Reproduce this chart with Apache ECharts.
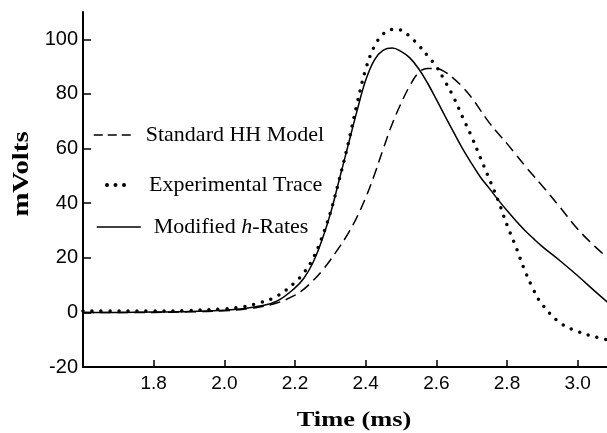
<!DOCTYPE html>
<html>
<head>
<meta charset="utf-8">
<script src="https://cdn.jsdelivr.net/npm/echarts@6/dist/echarts.min.js"></script>
<style>
  html, body { margin: 0; padding: 0; background: #fff; }
  #main { width: 607px; height: 433px; }
</style>
</head>
<body>
<div id="main"></div>
<script>
// time samples (ms)
var times = [1.60, 1.70, 1.80, 1.90, 2.00, 2.05, 2.10, 2.15, 2.20, 2.225, 2.25, 2.275,
  2.30, 2.325, 2.35, 2.375, 2.40, 2.425, 2.45, 2.475, 2.50, 2.525, 2.55, 2.575,
  2.60, 2.625, 2.65, 2.675, 2.70, 2.725, 2.75, 2.775, 2.80, 2.825, 2.85, 2.875,
  2.90, 2.95, 3.00, 3.05, 3.10]

// membrane potential (mV)
var standardHH = [0, 0, 0, 0.2, 0.6, 1.1, 2, 3.5, 6.3, 8.5, 11.5, 15,
  19.2, 23.8, 28.8, 34.8, 42, 50.5, 60, 69, 76.5, 83, 87.8, 89.3,
  89.3, 88, 85.5, 82.4, 78.6, 74, 69.4, 65.5, 61.8, 57.8, 53.8, 50,
  46.3, 38.5, 30.5, 24, 18.3]
var experimental = [0.5, 0.5, 0.5, 0.7, 1.3, 2, 3.5, 6, 11, 14.5, 19.5, 27,
  36.5, 48.5, 61.5, 76, 89, 97.5, 102, 103.6, 103.4, 101, 97.8, 94,
  90, 84.5, 78.5, 71.3, 64.3, 56.5, 48.8, 41, 32, 24, 15.5, 8.3,
  2.8, -3.8, -7, -9, -10.5]
var modifiedH = [0, 0, 0.1, 0.3, 0.8, 1.3, 2.3, 4.2, 9, 12.5, 18, 26,
  36, 48.5, 61, 73.5, 85, 92.5, 96, 96.8, 95.6, 93.2, 89.2, 84,
  78, 71.8, 65.7, 59.8, 54.5, 49.5, 45.4, 41.2, 37.3, 33.6, 30.1, 27,
  24.1, 18.9, 13.4, 7.6, 2]

var xTicks = [1.8, 2.0, 2.2, 2.4, 2.6, 2.8, 3.0]
var yTicks = [-20, 0, 20, 40, 60, 80, 100]

function pairs(vals) {
  return times.map(function (t, i) { return [t, vals[i]] })
}

var chart = echarts.init(document.getElementById('main'))

var serif = 'Liberation Serif, Times New Roman, serif'
var sans = 'Liberation Sans, Arial, sans-serif'

function legendAt(name, left, top, width, pad, lineStyle) {
  return {
    data: [name],
    left: left,
    top: top,
    padding: 0,
    itemWidth: width,
    itemHeight: 14,
    selectedMode: false,
    itemStyle: { opacity: 0 },
    lineStyle: lineStyle,
    formatter: name === 'Modified h-Rates' ? '{a|Modified }{i|h}{a|-Rates}' : name,
    textStyle: {
      fontFamily: serif,
      fontSize: 22,
      color: '#000',
      lineHeight: 22,
      padding: [0, 0, 0, pad],
      rich: {
        a: { fontFamily: serif, fontSize: 22, color: '#000' },
        i: { fontFamily: serif, fontSize: 22, color: '#000', fontStyle: 'italic' }
      }
    }
  }
}

var option = {
  animation: false,
  backgroundColor: '#fff',
  grid: { left: 83, right: 0, top: 12, bottom: 66 },
  legend: [
    legendAt('Standard HH Model', 93, 124, 40, 7, { color: '#000', width: 1.5, type: [9, 5] }),
    legendAt('Experimental Trace', 105, 174, 20, 17, { color: '#000', width: 4, type: [0, 8.5], cap: 'round' }),
    legendAt('Modified h-Rates', 96, 216, 44, 8, { color: '#000', width: 1.5, type: 'solid' })
  ],
  graphic: [
    {
      // y axis title
      type: 'text',
      x: 22,
      y: 174,
      rotation: Math.PI / 2,
      scaleX: 1.25,
      style: {
        text: 'mVolts',
        font: 'bold 23px ' + serif,
        fill: '#000',
        textAlign: 'center',
        textVerticalAlign: 'middle'
      }
    },
    {
      // x axis title
      type: 'text',
      x: 354,
      y: 420,
      scaleX: 1.2,
      style: {
        text: 'Time (ms)',
        font: 'bold 22px ' + serif,
        fill: '#000',
        textAlign: 'center',
        textVerticalAlign: 'middle'
      }
    }
  ],
  xAxis: {
    type: 'value',
    min: 1.6,
    max: 3.083,
    axisLine: { onZero: false, lineStyle: { color: '#000', width: 2 } },
    axisTick: { inside: true, length: 7, lineStyle: { color: '#000', width: 1.5 }, customValues: xTicks },
    axisLabel: {
      customValues: xTicks,
      formatter: function (v) { return v.toFixed(1) },
      fontFamily: sans, fontSize: 19, color: '#000', margin: 7
    },
    splitLine: { show: false }
  },
  yAxis: {
    type: 'value',
    min: -20,
    max: 110,
    axisLine: { show: true, onZero: false, lineStyle: { color: '#000', width: 2 } },
    axisTick: { show: true, inside: true, length: 8, lineStyle: { color: '#000', width: 1.5 }, customValues: yTicks },
    axisLabel: { customValues: yTicks, fontFamily: sans, fontSize: 20, color: '#000', margin: 5 },
    splitLine: { show: false }
  },
  series: [
    {
      name: 'Standard HH Model',
      type: 'line',
      smooth: 0.4,
      symbol: 'none',
      data: pairs(standardHH),
      lineStyle: { color: '#000', width: 1.5, type: [11, 6] },
      itemStyle: { color: '#000' }
    },
    {
      name: 'Experimental Trace',
      type: 'line',
      smooth: 0.4,
      symbol: 'none',
      data: pairs(experimental),
      lineStyle: { color: '#000', width: 3.5, type: [0, 9], cap: 'round' },
      itemStyle: { color: '#000' }
    },
    {
      name: 'Modified h-Rates',
      type: 'line',
      smooth: 0.4,
      symbol: 'none',
      data: pairs(modifiedH),
      lineStyle: { color: '#000', width: 1.5 },
      itemStyle: { color: '#000' }
    }
  ]
}

chart.setOption(option)
</script>
</body>
</html>
